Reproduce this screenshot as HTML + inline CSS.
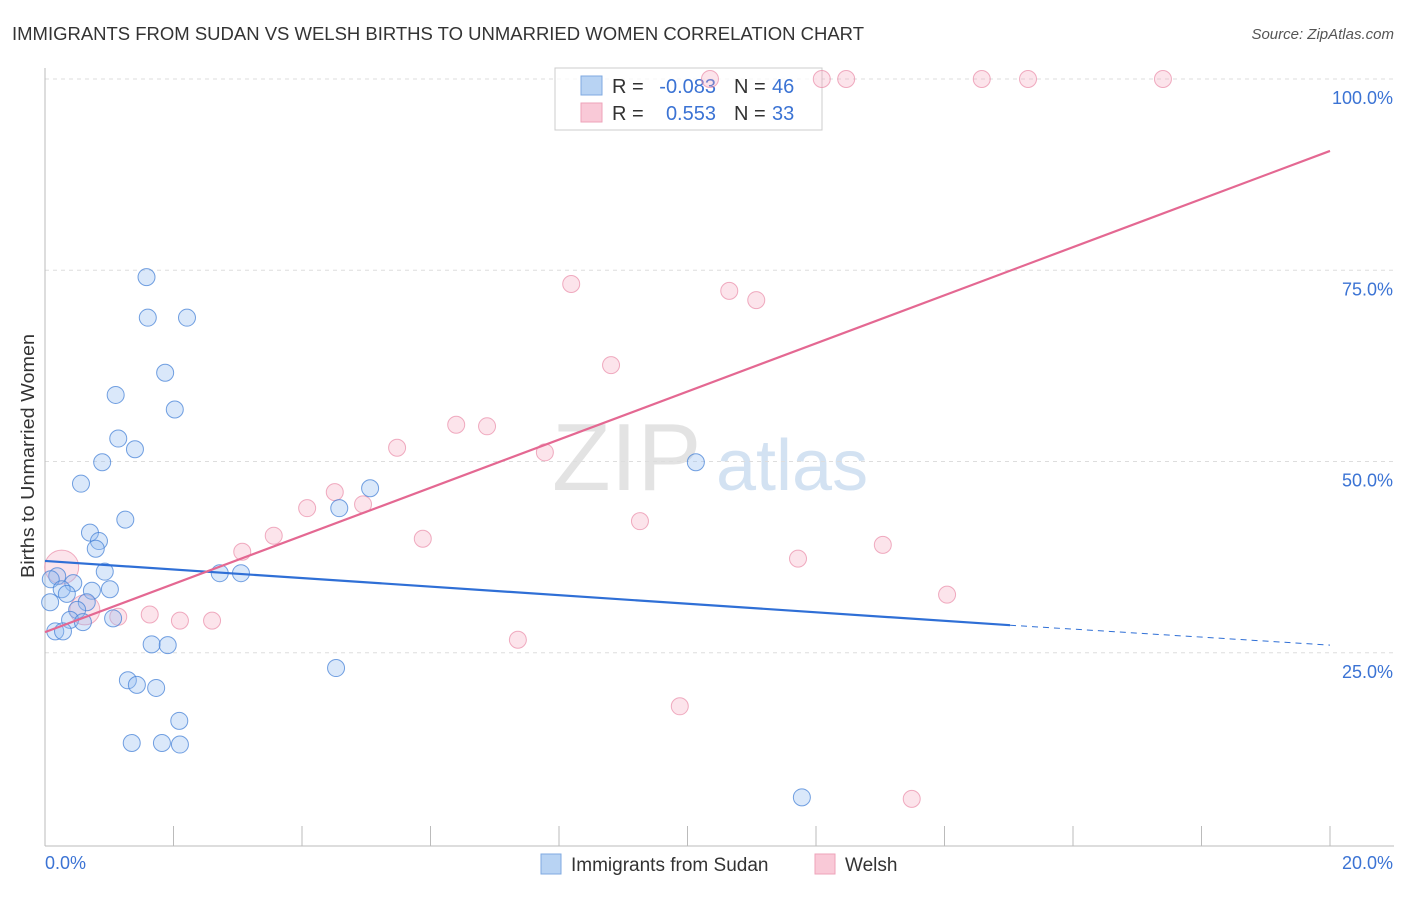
<!DOCTYPE html>
<html><head><meta charset="utf-8"><style>
body{margin:0;background:#fff;font-family:"Liberation Sans",sans-serif;}
svg text{font-family:"Liberation Sans",sans-serif;}
</style></head><body>
<svg id="chart" width="1406" height="892" xmlns="http://www.w3.org/2000/svg">
<text x="12" y="40" font-size="18" fill="#333" textLength="852" lengthAdjust="spacingAndGlyphs">IMMIGRANTS FROM SUDAN VS WELSH BIRTHS TO UNMARRIED WOMEN CORRELATION CHART</text>
<text x="1394" y="39" font-size="15" fill="#555" text-anchor="end" font-style="italic">Source: ZipAtlas.com</text>
<text transform="translate(34,456) rotate(-90)" font-size="18" fill="#333" text-anchor="middle" textLength="244" lengthAdjust="spacingAndGlyphs">Births to Unmarried Women</text>
<g>
<text x="552" y="490" font-size="96" fill="#ddd" font-family="Liberation Serif" opacity="0.8">ZIP</text>
<text x="716" y="490" font-size="72" fill="#c9dbf0" opacity="0.8">atlas</text>
</g>
<g id="grid"></g>
<g id="axes"></g>
<g>
<rect x="555" y="68" width="267" height="62" fill="#fff" fill-opacity="0.75" stroke="#ccc"/>
<rect x="581" y="76" width="21" height="19" fill="#b8d3f3" stroke="#7fa9e0"/>
<rect x="581" y="103" width="21" height="19" fill="#f9c9d7" stroke="#eea3ba"/>
<text x="612" y="93" font-size="20" fill="#333">R =</text>
<text x="716" y="93" font-size="20" fill="#3b73d4" text-anchor="end">-0.083</text>
<text x="734" y="93" font-size="20" fill="#333">N =</text>
<text x="772" y="93" font-size="20" fill="#3b73d4">46</text>
<text x="612" y="120" font-size="20" fill="#333">R =</text>
<text x="716" y="120" font-size="20" fill="#3b73d4" text-anchor="end">0.553</text>
<text x="734" y="120" font-size="20" fill="#333">N =</text>
<text x="772" y="120" font-size="20" fill="#3b73d4">33</text>
</g>
<g id="marks"></g>
<g id="lines"></g>
<g>
<rect x="541" y="854" width="20" height="20" fill="#b8d3f3" stroke="#7fa9e0"/>
<text x="571" y="871" font-size="19" fill="#333">Immigrants from Sudan</text>
<rect x="815" y="854" width="20" height="20" fill="#f9c9d7" stroke="#eea3ba"/>
<text x="845" y="871" font-size="19" fill="#333">Welsh</text>
</g>
</svg>
<script>
const xTicks=[0,2,4,6,8,10,12,14,16,18,20];
const yTicks=[25,50,75,100];
const blueX=[1.58,1.6,2.21,1.87,1.1,2.02,1.14,1.4,0.89,0.56,1.25,0.7,0.84,0.79,0.19,0.93,0.44,0.09,0.26,0.73,1.01,0.34,0.08,0.65,0.5,0.39,0.59,1.06,0.16,0.28,1.66,1.91,2.72,3.05,4.58,5.06,10.13,4.53,1.29,1.43,1.73,2.09,1.35,1.82,2.1,11.78];
const blueY=[74.1,68.8,68.8,61.6,58.7,56.8,53.0,51.6,49.9,47.1,42.4,40.7,39.6,38.6,35.0,35.6,34.1,34.6,33.3,33.1,33.3,32.7,31.6,31.6,30.6,29.3,29.0,29.5,27.8,27.8,26.1,26.0,35.4,35.4,43.9,46.5,49.9,23.0,21.4,20.8,20.4,16.1,13.2,13.2,13.0,6.1];
const pinkX=[10.35,12.09,12.47,14.58,15.3,17.4,8.19,10.65,11.07,8.81,6.4,6.88,5.48,7.78,4.51,4.95,4.08,3.56,5.88,9.26,3.07,11.72,13.04,14.04,1.63,1.14,2.1,2.6,7.36,9.88,13.49,0.26,0.62];
const pinkY=[100,100,100,100,100,100,73.2,72.3,71.1,62.6,54.8,54.6,51.8,51.2,46.0,44.4,43.9,40.3,39.9,42.2,38.2,37.3,39.1,32.6,30.0,29.7,29.2,29.2,26.7,18.0,5.9,36.2,30.6];
const pinkR=[8.5,8.5,8.5,8.5,8.5,8.5,8.5,8.5,8.5,8.5,8.5,8.5,8.5,8.5,8.5,8.5,8.5,8.5,8.5,8.5,8.5,8.5,8.5,8.5,8.5,8.5,8.5,8.5,8.5,8.5,8.5,17,15];
const X0=45,X1=1330,Y0=844,Y100=79;
const sx=v=>X0+(X1-X0)*v/20;
const sy=v=>Y0-(Y0-Y100)*v/100;
const NS="http://www.w3.org/2000/svg";
function mk(t,a,p){const e=document.createElementNS(NS,t);for(const k in a)e.setAttribute(k,a[k]);p.appendChild(e);return e;}
const grid=document.getElementById('grid'),axes=document.getElementById('axes'),marks=document.getElementById('marks'),lines=document.getElementById('lines');
yTicks.forEach(t=>{
 const l=mk('line',{x1:X0,x2:1394,y1:sy(t),y2:sy(t),stroke:'#ddd','stroke-dasharray':'4,4'},grid);
 
 
 const tx=mk('text',{x:1393,y:sy(t)+25,'font-size':18,fill:'#3b73d4','text-anchor':'end'},axes);
 tx.textContent=t.toFixed(1)+'%';
 
 
});
const ax=mk('line',{x1:X0,x2:X0,y1:68,y2:Y0+2,stroke:'#bbb'},axes);


const bx=mk('line',{x1:X0,x2:1394,y1:Y0+2,y2:Y0+2,stroke:'#bbb'},axes);


xTicks.forEach(t=>{
 const l=mk('line',{x1:sx(t),x2:sx(t),y1:826,y2:Y0+2,stroke:'#bbb'},axes);
 
 
});
[[0,'start',45],[20,'end',1393]].forEach(([t,anc,px])=>{
 const tx=mk('text',{x:px,y:869,'font-size':18,fill:'#3b73d4','text-anchor':anc},axes);
 tx.textContent=t.toFixed(1)+'%';
 
 
});
pinkX.forEach((v,i)=>{
 const c=mk('circle',{cx:sx(v),cy:sy(pinkY[i]),r:pinkR[i],fill:'rgba(244,164,190,0.3)',stroke:'rgba(232,130,162,0.65)','stroke-width':1},marks);
 
 
});
blueX.forEach((v,i)=>{
 const c=mk('circle',{cx:sx(v),cy:sy(blueY[i]),r:8.5,fill:'rgba(150,190,240,0.35)',stroke:'rgba(70,130,215,0.75)','stroke-width':1},marks);
 
 
});
const bl=mk('line',{x1:sx(0),y1:sy(37.0),x2:sx(15.02),y2:sy(28.6),stroke:'#2f6fd6','stroke-width':2.2},lines);


const bd=mk('line',{x1:sx(15.02),y1:sy(28.6),x2:sx(20),y2:sy(26.0),stroke:'#2f6fd6','stroke-width':1,'stroke-dasharray':'6,5'},lines);


const pl=mk('line',{x1:sx(0),y1:sy(27.7),x2:sx(20),y2:sy(90.6),stroke:'#e46892','stroke-width':2.2},lines);


</script>
</body></html>
